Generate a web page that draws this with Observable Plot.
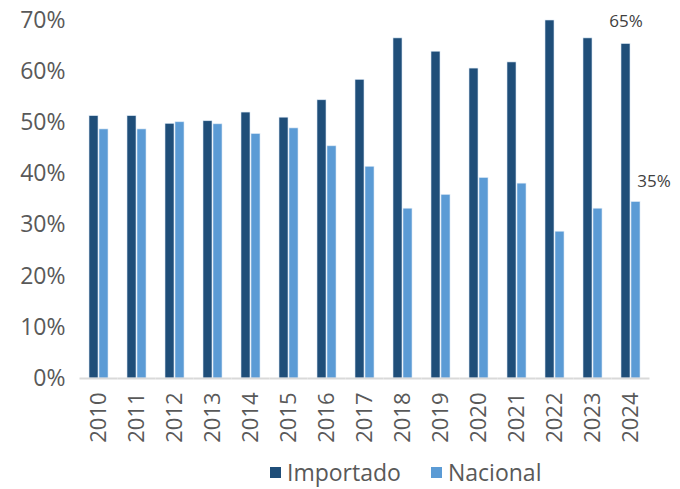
<!DOCTYPE html>
<html><head><meta charset="utf-8">
<script src="https://cdn.jsdelivr.net/npm/d3@7"></script>
<script src="https://cdn.jsdelivr.net/npm/@observablehq/plot@0.6"></script>
<style>
body{margin:0;background:#fff;font-family:"Open Sans",sans-serif}
#legend{height:34px;position:relative;color:#595959;font-size:23px;font-family:"Open Sans",sans-serif}
.item{position:absolute;top:0;display:flex;align-items:center;height:34px}
.sw{width:11px;height:11px;display:inline-block;margin-right:6px}
</style>
</head><body>
<div id="chart"></div>
<div id="legend"></div>
<script>
const years = ["2010","2011","2012","2013","2014","2015","2016","2017","2018","2019","2020","2021","2022","2023","2024"];
const importado = [51.3,51.3,49.8,50.3,52.0,51.0,54.4,58.4,66.5,63.9,60.6,61.8,70.0,66.5,65.4];
const nacional  = [48.7,48.7,50.1,49.7,47.8,48.9,45.4,41.4,33.2,35.9,39.2,38.1,28.7,33.2,34.5];
const seriesNames = ["Importado","Nacional"];
const seriesColors = ["#1f4e79","#5b9bd5"];
const yTicks = [0,10,20,30,40,50,60,70];
const labelYear = "2024";
const labelImportado = "65%";
const labelNacional = "35%";

const rows = [];
years.forEach((y,i)=>{
  rows.push({year:y, series:seriesNames[0], value:importado[i]});
  rows.push({year:y, series:seriesNames[1], value:nacional[i]});
});
const lastIdx = years.indexOf(labelYear);
const impLab = [{year:labelYear, series:seriesNames[0], value:importado[lastIdx], text:labelImportado}];
const nacLab = [{year:labelYear, series:seriesNames[1], value:nacional[lastIdx], text:labelNacional}];

const chart = Plot.plot({
  width:680, height:455,
  marginLeft:82, marginRight:33, marginTop:20, marginBottom:77,
  style:{fontFamily:"Open Sans", fontSize:"23px", color:"#595959", background:"white"},
  fx:{domain:years, padding:0.5, label:null, axis:null},
  x:{domain:seriesNames, paddingInner:0.15, paddingOuter:0, axis:null},
  y:{domain:[0,70], label:null},
  color:{domain:seriesNames, range:seriesColors},
  marks:[
    Plot.axisY({ticks:yTicks, tickFormat:d=>d+"%", tickSize:0, tickPadding:24, label:null, fontSize:23}),
    Plot.axisFx({anchor:"bottom", tickRotate:-90, tickSize:0, tickPadding:14, label:null, fontSize:22}),
    Plot.barY(rows, {fx:"year", x:"series", y:"value", fill:"series", stroke:"#dbe8f5", strokeWidth:0.6}),
    Plot.ruleY([0], {stroke:"#d9d9d9", strokeWidth:2, insetLeft:-9.5, insetRight:-9.5}),
    Plot.text(impLab, {fx:"year", x:"series", y:"value", text:"text", dy:-22, fill:"#404040", fontSize:17}),
    Plot.text(nacLab, {fx:"year", x:"series", y:"value", text:"text", dy:-21, dx:18, fill:"#404040", fontSize:17})
  ]
});
document.getElementById("chart").appendChild(chart);

const legend = document.getElementById("legend");
const lx = [270, 431];
seriesNames.forEach((s,i)=>{
  const it = document.createElement("div");
  it.className="item"; it.style.left = lx[i]+"px";
  const sw = document.createElement("span"); sw.className="sw"; sw.style.background = seriesColors[i];
  it.appendChild(sw); it.appendChild(document.createTextNode(s));
  legend.appendChild(it);
});
</script>
</body></html>
